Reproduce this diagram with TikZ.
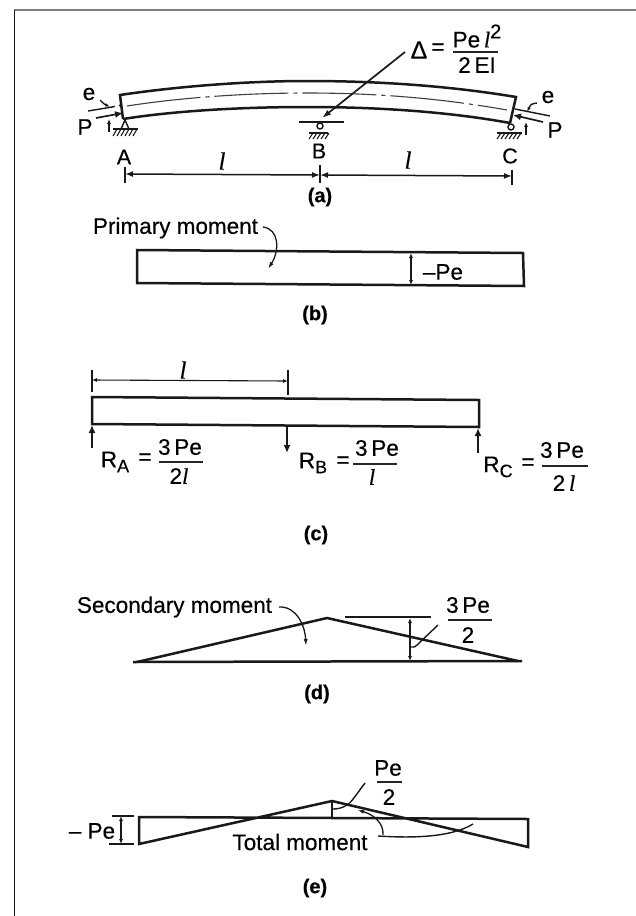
\documentclass[tikz,border=0pt]{standalone}
\usepackage{fontspec}
\setmainfont[FakeBold=0.35]{Liberation Sans}
\newfontfamily\serifit[FakeBold=0.35]{Liberation Serif}
\usetikzlibrary{arrows.meta}
\newcommand{\lsym}{{\serifit\itshape l}}
\tikzset{
  x=1pt,y=-1pt,
  lab/.style={inner sep=0pt,font=\fontsize{22.5}{24}\selectfont},
  sublab/.style={inner sep=0pt,font=\fontsize{21.5}{23}\selectfont},
  figcap/.style={inner sep=0pt,font=\fontsize{20}{22}\selectfont\bfseries},
  ellsym/.style={inner sep=0pt,font=\fontsize{25}{27}\selectfont},
  thick1/.style={line width=2.5pt,line join=miter,black!90},
  fracbar/.style={line width=1.6pt,black!85},
  dimline/.style={line width=1.5pt,black!90,{Latex[length=8pt,width=6pt]}-{Latex[length=8pt,width=6pt]}},
  thindim/.style={line width=1.1pt,black!90,{Latex[length=5pt,width=4pt]}-{Latex[length=5pt,width=4pt]}},
  leadline/.style={line width=1.3pt,black!90,-{Latex[length=7pt,width=4pt]}},
  plainline/.style={line width=1.4pt,black!90},
  forceline/.style={line width=2.4pt,black!90,-{Latex[length=8pt,width=7pt]}},
  hatchline/.style={line width=1.1pt,black!90},
}
\begin{document}
\begin{tikzpicture}
\useasboundingbox (0,0) rectangle (636,916);
\fill[white] (0,0) rectangle (636,916);
% page frame
\draw[line width=1.8pt,black!50] (14,10) -- (636,10);
\draw[line width=1.6pt,black!90] (14.5,10) -- (14.5,916);

% ---------- (a) ----------
\draw[thick1] (123,119) .. controls (180,110) and (250,107) .. (307,107)
  .. controls (380,107) and (450,112) .. (510,123);
\draw[thick1] (123,119) -- (120,95) .. controls (180,86) and (250,81) .. (307,81)
  .. controls (380,81) and (450,86) .. (516,97) -- (510,123);
\draw[line width=1.1pt,black!75,dash pattern=on 74pt off 5pt on 4pt off 5pt]
  (127,106) .. controls (185,97) and (250,93) .. (307,93)
  .. controls (380,93) and (445,99) .. (507,110);
% supports
\draw[plainline] (113,129) -- (138,129);
\draw[plainline] (121,129) -- (125,120) -- (129,129);
\foreach \hx in {117,121,...,137} {\draw[hatchline] (\hx,129) -- (\hx-4,136);}
\draw[plainline] (299,122) -- (344,122);
\draw[plainline] (320,126) circle (3pt);
\draw[plainline] (309,133) -- (328,133);
\foreach \hx in {313,317,...,329} {\draw[hatchline] (\hx,133) -- (\hx-4,139);}
\draw[plainline] (511,127) circle (3pt);
\draw[plainline] (497,133) -- (522,133);
\foreach \hx in {501,505,...,521} {\draw[hatchline] (\hx,133) -- (\hx-4,139);}
% eccentric loads
\coordinate (LEa) at (88,111); \coordinate (LEb) at (112,107);
\draw[plainline] (LEa) -- (LEb);
\draw[plainline,dash pattern=on 3pt off 4pt] (LEb) -- (122,105);
\draw[forceline,line width=1.7pt] (96,118) -- (123,113);
\draw[plainline,-{Latex[length=5pt,width=3.5pt]}] (100,100) .. controls (104,104) .. (110,107);
\draw[plainline,-{Latex[length=5pt,width=4pt]}] (109,132) -- (109,119);
\coordinate (REa) at (550,116); \coordinate (REb) at (515,109);
\draw[plainline] (REa) -- (REb);
\draw[forceline,line width=1.7pt] (543,122) -- (513,115);
\draw[plainline,-{Latex[length=5pt,width=3.5pt]}] (537,103) .. controls (531,104) .. (527,112);
\draw[plainline,-{Latex[length=5pt,width=4pt]}] (526,135) -- (526,122);
\node[lab] (eL) at (89,94) {e};
\node[lab] (pL) at (85,127) {P};
\node[lab] (eR) at (548,97) {e};
\node[lab] (pR) at (555,130) {P};
\node[sublab] (labA) at (124,157) {A};
\node[sublab] (labB) at (319,151) {B};
\node[sublab] (labC) at (510,156) {C};
\node[ellsym] (l1) at (222,161) {\lsym};
\node[ellsym] (l2) at (408,160) {\lsym};
% dimensions
\draw[plainline] (125,167) -- (125,183);
\draw[plainline] (320,165) -- (320,183);
\draw[plainline] (512,170) -- (512,185);
\draw[dimline] (125,174) -- (320,175);
\draw[dimline] (320,175) -- (512,176);
% deflection
\draw[line width=1.7pt,black!90,-{Latex[length=9pt,width=6pt]}] (405,52) -- (322,118);
\node[ellsym] (delta) at (419,50) {Δ};
\node[lab] (eqD) at (438,49) {=};
\node[lab] (dNum) at (477,36) {Pe\,\lsym\raisebox{9pt}{\fontsize{20}{22}\selectfont 2}};
\draw[fracbar] (453,52) -- (498,52);
\node[lab] (dDen) at (477,65) {2\,EI};
\node[figcap] (capa) at (320,197) {(a)};

% ---------- (b) ----------
\draw[thick1] (137,250) -- (523,253) -- (524,286) -- (137,283) -- cycle;
\draw[thindim] (411,253) -- (411,285);
\node[lab] (pm) at (175.5,228) {Primary moment};
\node[lab] (pe1) at (443,272) {--Pe};
\draw[leadline] (263,227) .. controls (279,229) and (280,250) .. (268,269);
\node[figcap] (capb) at (315,315) {(b)};

% ---------- (c) ----------
\draw[thick1] (92,424) -- (92,397) -- (479,400) -- (479,427) -- cycle;
\draw[plainline] (92,370) -- (92,392);
\draw[plainline] (288,370) -- (288,395);
\draw[thindim] (92,380) -- (288,381);
\node[ellsym] (l3) at (183,370) {\lsym};
\draw[forceline] (92,448) -- (92,425);
\draw[forceline] (287,427) -- (287,453);
\draw[forceline] (478,453) -- (478,428);
\node[lab] (ra) at (115,462) {R\raisebox{-5pt}{\fontsize{18}{20}\selectfont A}};
\node[lab] at (145,459) {=};
\node[lab] at (180,447) {3\,Pe};
\draw[fracbar] (159,462) -- (203,462);
\node[lab] at (179,476) {2\lsym};
\node[lab] (rb) at (313,463) {R\raisebox{-5pt}{\fontsize{18}{20}\selectfont B}};
\node[lab] at (343,462) {=};
\node[lab] at (377,448) {3\,Pe};
\draw[fracbar] (353,464) -- (397,464);
\node[lab] at (372,477) {\lsym};
\node[lab] (rc) at (498,467) {R\raisebox{-5pt}{\fontsize{18}{20}\selectfont C}};
\node[lab] at (528,464) {=};
\node[lab] at (562,450) {3\,Pe};
\draw[fracbar] (542,466) -- (588,466);
\node[lab] at (564,483) {2\,\lsym};
\node[figcap] (capc) at (316,535) {(c)};

% ---------- (d) ----------
\draw[thick1] (133,662) -- (522,661);
\draw[thick1] (137,662) -- (327,618) -- (518,661);
\draw[plainline] (345,617) -- (431,617);
\draw[thindim] (410,618) -- (410,661);
\node[lab] (sm) at (174.5,607) {Secondary moment};
\draw[leadline] (279,607) .. controls (296,606) and (305,625) .. (306,646);
\draw[plainline] (438,625) -- (417,645) .. controls (415,647) .. (411,647);
\node[lab] at (468,605) {3\,Pe};
\draw[fracbar] (448,620) -- (492,620);
\node[lab] at (468,635) {2};
\node[figcap] (capd) at (317,694) {(d)};

% ---------- (e) ----------
\draw[thick1] (139,817) -- (528,819) -- (528,847) -- (332,801) -- (139,844) -- cycle;
\draw[line width=1.8pt,black!90] (332,801) -- (332,817);
\draw[plainline] (112,816) -- (134,816);
\draw[plainline] (109,844) -- (134,844);
\draw[thindim] (121,816) -- (121,844);
\node[lab] (pe2) at (92,831) {-- Pe};
\node[lab] at (388,768) {Pe};
\draw[fracbar] (377,782) -- (402,782);
\node[lab] at (389,797) {2};
\draw[plainline] (365,783) .. controls (358,792) and (352,802) .. (347,805)
  .. controls (342,808) and (338,809) .. (333,809);
\node[lab] (tm) at (300,842) {Total moment};
\draw[plainline] (378,836) .. controls (410,838) and (450,838) .. (473,824);
\draw[leadline] (383,835) .. controls (384,822) and (372,814) .. (357,810);
\node[figcap] (cape) at (315,888) {(e)};
\end{tikzpicture}
\end{document}
